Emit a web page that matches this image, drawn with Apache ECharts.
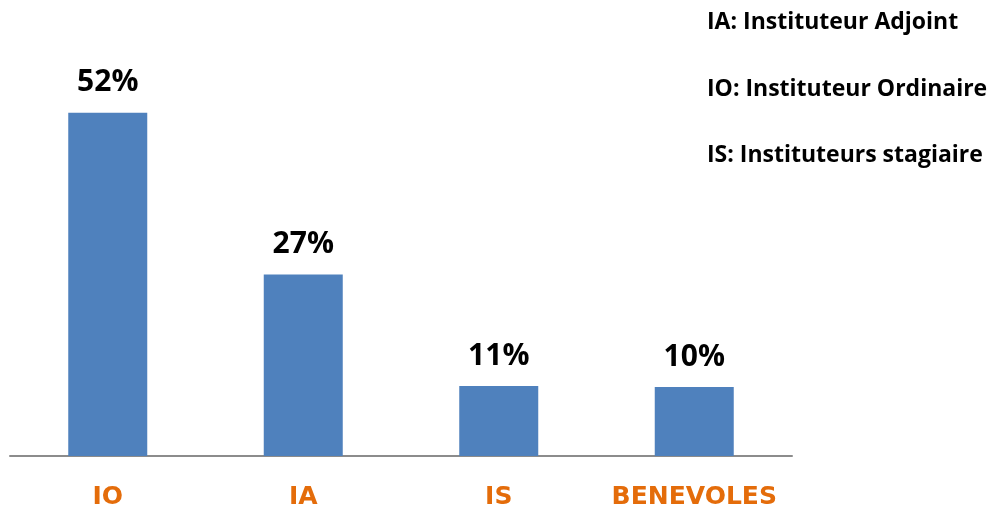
<!DOCTYPE html>
<html>
<head>
<meta charset="utf-8">
<script src="https://cdn.jsdelivr.net/npm/echarts@6/dist/echarts.min.js"></script>
<style>
    html, body { margin: 0; padding: 0; background: #fff; }
    #chart { width: 1004px; height: 510px; }
</style>
</head>
<body>
<div id="chart"></div>
<script>
// bar heights (labels are the rounded values shown)
var categories = ['IO', 'IA', 'IS', 'BENEVOLES'];
var values = [52, 27.5, 10.6, 10.45];
var valueLabels = ['52%', '27%', '11%', '10%'];
var legendLines = [
    'IA: Instituteur Adjoint',
    'IO: Instituteur Ordinaire',
    'IS: Instituteurs stagiaire'
];

var chart = echarts.init(document.getElementById('chart'));

var option = {
    animation: false,
    grid: { left: 10, right: 212, top: 60, bottom: 50, containLabel: false },
    xAxis: {
        type: 'category',
        data: categories,
        axisLine: { lineStyle: { color: '#8c8c8c', width: 2 } },
        axisTick: { show: false },
        axisLabel: {
            interval: 0,
            color: '#E46C0A',
            fontFamily: 'DejaVu Sans',
            fontWeight: 'bold',
            fontSize: 25,
            margin: 29
        }
    },
    yAxis: {
        type: 'value',
        min: 0,
        max: 60,
        show: false
    },
    series: [{
        type: 'bar',
        data: values,
        barWidth: 79,
        itemStyle: { color: '#4F81BD' },
        label: {
            show: true,
            position: 'top',
            distance: 15,
            color: '#000',
            fontFamily: 'Open Sans',
            fontWeight: 'bold',
            fontSize: 30,
            formatter: function (p) { return valueLabels[p.dataIndex]; }
        }
    }],
    graphic: legendLines.map(function (t, i) {
        return {
            type: 'text',
            left: 707,
            top: 11 + i * 66.7,
            style: {
                text: t,
                fill: '#000',
                font: 'bold 23px "Open Sans"'
            }
        };
    })
};

chart.setOption(option);
</script>
</body>
</html>
